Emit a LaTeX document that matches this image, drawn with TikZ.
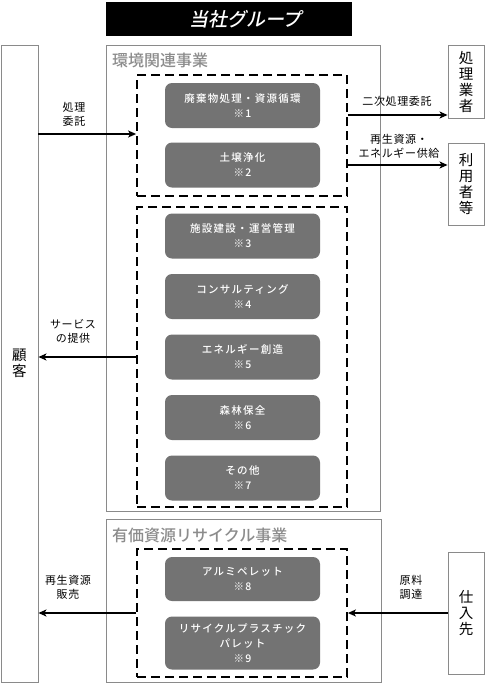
\documentclass[tikz,border=0pt]{standalone}
\usepackage{fontspec}
\setmainfont{Noto Sans CJK JP}
\newfontfamily\titlefont[UprightFont=* Medium, FakeSlant=0.2]{Noto Sans CJK JP}
\newfontfamily\boxfont[UprightFont=* Medium, LetterSpace=12]{Noto Sans CJK JP}
\newfontfamily\lblfont[LetterSpace=6]{Noto Sans CJK JP}
\newfontfamily\sectfont[UprightFont=* Medium]{Noto Sans CJK JP}
\usetikzlibrary{arrows.meta}
\definecolor{boxgray}{HTML}{737373}
\definecolor{framegray}{HTML}{8A8A8A}
\definecolor{labelgray}{HTML}{8C8C8C}
\begin{document}
\begin{tikzpicture}[x=1pt,y=-1pt,
  frame/.style={draw=framegray, line width=0.9pt, inner sep=0pt, fill=white},
  dbox/.style={draw=black, line width=1.8pt, dash pattern=on 9pt off 5pt, inner sep=0pt},
  gbox/.style={fill=boxgray, rounded corners=7pt, text=white, minimum width=155pt,
    align=center, font=\boxfont\fontsize{10.5}{15}\selectfont, inner sep=0pt},
  lbl/.style={align=center, font=\lblfont\fontsize{11}{14}\selectfont, inner sep=0pt},
  vtext/.style={align=center, font=\fontsize{14.5}{16}\selectfont},
  sect/.style={anchor=west, text=labelgray, font=\sectfont\fontsize{16}{18}\selectfont, inner sep=0pt},
  arr/.style={-{Stealth[length=8pt,width=7pt,inset=2pt]}, line width=1.4pt}
]
\useasboundingbox (0,0) rectangle (485,683);
% title
\node[fill=black, text=white, minimum width=246pt, minimum height=34pt, inner sep=0pt,
  font=\titlefont\fontsize{19}{20}\selectfont] (title) at (229,19) {\hspace*{33pt}当社グループ};
% customer
\node[frame, vtext, minimum width=37pt, minimum height=637pt] (cust) at (19.5,363.5) {顧\\客};
% section frames
\node[frame, minimum width=274pt, minimum height=466pt] (env) at (243,278) {};
\node[frame, minimum width=275pt, minimum height=163pt] (rec) at (243.5,600.5) {};
\node[sect] (envlbl) at (112,60) {環境関連事業};
\node[sect] (reclbl) at (112,535) {有価資源リサイクル事業};
% dashed groups
\node[dbox, minimum width=210pt, minimum height=121pt] (d1) at (242,135.5) {};
\node[dbox, minimum width=210pt, minimum height=300pt] (d2) at (242,357) {};
\node[dbox, minimum width=210pt, minimum height=128pt] (d3) at (242,613) {};
% gray boxes
\node[gbox, minimum height=45pt] (g1) at (242.5,105.5) {廃棄物処理・資源循環\\※1};
\node[gbox, minimum height=45pt] (g2) at (242.5,165) {土壌浄化\\※2};
\node[gbox, minimum height=45pt] (g3) at (242.5,236) {施設建設・運営管理\\※3};
\node[gbox, minimum height=45pt] (g4) at (242.5,296.5) {コンサルティング\\※4};
\node[gbox, minimum height=45pt] (g5) at (242.5,357) {エネルギー創造\\※5};
\node[gbox, minimum height=45pt] (g6) at (242.5,417.5) {森林保全\\※6};
\node[gbox, minimum height=45pt] (g7) at (242.5,478) {その他\\※7};
\node[gbox, minimum height=44pt] (g8) at (242.5,579) {アルミペレット\\※8};
\node[gbox, minimum height=53pt] (g9) at (242.5,643) {リサイクルプラスチック\\パレット\\※9};
% right boxes
\node[frame, vtext, minimum width=36pt, minimum height=73pt] (p1) at (466,81.5) {処\\理\\業\\者};
\node[frame, vtext, minimum width=36pt, minimum height=82pt] (u1) at (466,184) {利\\用\\者\\等};
\node[frame, vtext, minimum width=36pt, minimum height=122pt] (s1) at (466,613) {仕\\入\\先};
% arrow levels
\coordinate (ya1) at (0,134);
\coordinate (ya2) at (0,115);
\coordinate (ya3) at (0,165);
% arrows
\draw[arr] (cust.east |- ya1) -- (d1.west |- ya1);
\draw[arr] (d1.east |- ya2) -- (p1.west |- ya2);
\draw[arr] (d1.east |- ya3) -- (u1.west |- ya3);
\draw[arr] (d2.west) -- (cust.east |- d2.west);
\draw[arr] (d3.west) -- (cust.east |- d3.west);
\draw[arr] (s1.west |- d3.east) -- (d3.east);
% labels
\node[lbl] (l1) at (74,114) {処理\\委託};
\node[lbl] (l2) at (397,101) {二次処理委託};
\node[lbl] (l3) at (399,146) {再生資源・\\エネルギー供給};
\node[lbl] (l4) at (73,331) {サービス\\の提供};
\node[lbl] (l5) at (68,587) {再生資源\\販売};
\node[lbl] (l6) at (411,587) {原料\\調達};
\end{tikzpicture}
\end{document}
